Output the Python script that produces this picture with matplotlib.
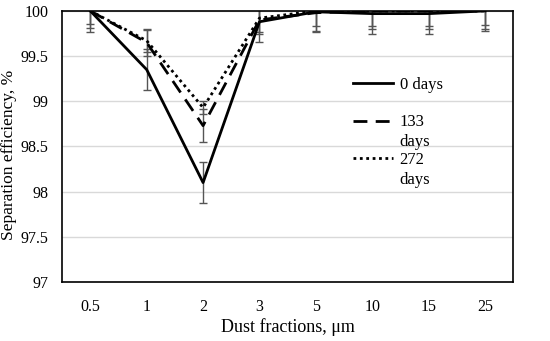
import matplotlib.pyplot as plt
import numpy as np

plt.rcParams['font.family'] = ['Liberation Serif', 'DejaVu Serif']

# Data
fractions = ['0.5', '1', '2', '3', '5', '10', '15', '25']
days_0 = [100.0, 99.35, 98.1, 99.88, 99.99, 99.97, 99.97, 100.0]
days_133 = [100.0, 99.65, 98.73, 99.9, 99.98, 100.0, 100.0, 100.0]
days_272 = [100.0, 99.67, 98.93, 99.92, 100.0, 100.0, 100.0, 100.0]
err_0 = [0.23, 0.23, 0.23, 0.22, 0.22, 0.22, 0.22, 0.22]
err_133 = [0.19, 0.15, 0.18, 0.16, 0.2, 0.2, 0.2, 0.2]
err_272 = [0.15, 0.12, 0.07, 0.15, 0.17, 0.17, 0.17, 0.16]
series_labels = ['0 days', '133', '272']
second_line = ['', 'days', 'days']

fig, ax = plt.subplots(figsize=(5.5, 3.41), dpi=100)
fig.subplots_adjust(left=0.113, right=0.933, top=0.968, bottom=0.173)

x = np.arange(len(fractions))

# Error bars first (grey), lines on top
for vals, err in [(days_0, err_0), (days_133, err_133), (days_272, err_272)]:
    ax.errorbar(x, vals, yerr=err, fmt='none', ecolor='#555555',
                elinewidth=1, capsize=3, capthick=1, zorder=2)

ax.plot(x, days_0, color='black', linewidth=2, label=series_labels[0], zorder=3)
ax.plot(x, days_133, color='black', linewidth=2, dashes=(5, 3),
        label=series_labels[1], zorder=3)
ax.plot(x, days_272, color='black', linewidth=2, linestyle=(0, (1, 1.3)),
        label=series_labels[2], zorder=3)

ax.set_xlim(-0.5, len(fractions) - 0.5)
ax.set_ylim(97, 100)
ax.set_xticks(x)
ax.set_xticklabels(fractions)
ax.set_yticks(np.arange(97, 100.01, 0.5))
ax.set_yticklabels(['97', '97.5', '98', '98.5', '99', '99.5', '100'])
ax.tick_params(length=0, labelsize=11.5, pad=10)
ax.tick_params(axis='x', pad=12)

ax.grid(axis='y', color='#d9d9d9', linewidth=1)
ax.set_axisbelow(True)
for s in ax.spines.values():
    s.set_linewidth(1.2)

ax.set_xlabel('Dust fractions, μm', fontsize=13)
ax.xaxis.set_label_coords(0.5, -0.135)
ax.set_ylabel('Separation efficiency, %', fontsize=12.5)
ax.yaxis.set_label_coords(-0.1, 0.47)

# Excel-style legend: second line of each label hangs below the row
leg = ax.legend(loc='upper left', bbox_to_anchor=(0.645, 0.755), frameon=False,
                fontsize=12, handlelength=2.4, handletextpad=0.4,
                labelspacing=1.27, borderpad=0, borderaxespad=0)
fig.canvas.draw()
inv = ax.transAxes.inverted()
for t, extra in zip(leg.get_texts(), second_line):
    if extra:
        bb = t.get_window_extent()
        x0, y0 = inv.transform((bb.x0, bb.y0 - 4))
        ax.text(x0, y0, extra, transform=ax.transAxes, fontsize=12,
                va='top', ha='left')

fig.savefig('out.png', dpi=100)
